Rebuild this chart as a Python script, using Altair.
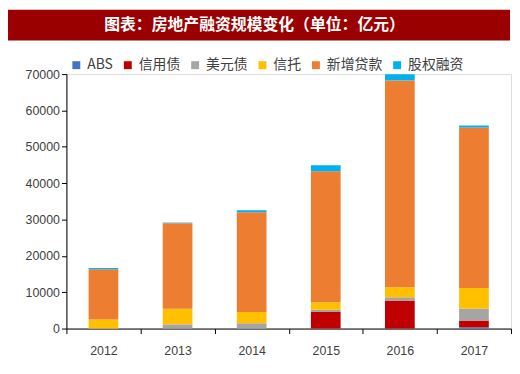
import altair as alt
import pandas as pd

years = ["2012", "2013", "2014", "2015", "2016", "2017"]
series = ["ABS", "信用债", "美元债", "信托", "新增贷款", "股权融资"]
colors = ["#4472C4", "#C00000", "#A5A5A5", "#FFC000", "#ED7D31", "#00B0F0"]

abs_v = [0, 0, 0, 0, 0, 300]
credit_v = [0, 0, 0, 4550, 7700, 1900]
usd_v = [0, 1150, 1450, 600, 900, 3250]
trust_v = [2500, 4300, 3100, 2100, 2750, 5700]
loan_v = [13800, 23550, 27450, 36000, 56900, 44150]
equity_v = [350, 150, 550, 1650, 1700, 550]

title_text = "图表：房地产融资规模变化（单位：亿元）"

vals = [abs_v, credit_v, usd_v, trust_v, loan_v, equity_v]
rows = []
for si, (s, v) in enumerate(zip(series, vals)):
    for y, val in zip(years, v):
        rows.append({"year": y, "type": s, "value": val, "ord": si})
df = pd.DataFrame(rows)

W, H = 449, 257

bars = alt.Chart(df).mark_bar(size=30).encode(
    x=alt.X("year:N", sort=years, title=None,
            scale=alt.Scale(paddingInner=0, paddingOuter=0),
            axis=alt.Axis(labelAngle=0, tickBand="extent", tickSize=5,
                          labelPadding=11, domainColor="#000000", tickColor="#000000",
                          labelFontSize=12.5, labelColor="#404040", labelFont="Liberation Sans")),
    y=alt.Y("value:Q", stack="zero", title=None,
            scale=alt.Scale(domain=[0, 70000], nice=False),
            axis=alt.Axis(values=list(range(0, 70001, 10000)), format="d", grid=False,
                          tickSize=5, labelPadding=2, domainColor="#000000", tickColor="#000000",
                          labelFontSize=12.5, labelColor="#404040", labelFont="Liberation Sans")),
    color=alt.Color("type:N", sort=series,
                    scale=alt.Scale(domain=series, range=colors),
                    legend=alt.Legend(title=None, orient="none", legendX=3, legendY=-16,
                                      direction="horizontal", columns=6, symbolType="square",
                                      symbolSize=64, symbolStrokeWidth=0, labelFontSize=14,
                                      labelFont="Noto Sans CJK SC", labelColor="#404040",
                                      columnPadding=8, labelOffset=4, padding=0)),
    order=alt.Order("ord:Q", sort="ascending"),
)

tdf = pd.DataFrame({"t": [title_text]})
banner = alt.Chart(tdf).mark_rect(color="#9A0000").encode(
    x=alt.value(-59), x2=alt.value(448), y=alt.value(-65), y2=alt.value(-34)
)
title = alt.Chart(tdf).mark_text(
    color="white", fontSize=16, fontWeight="bold", font="Noto Sans CJK SC",
    align="center", baseline="middle"
).encode(x=alt.value(190), y=alt.value(-50), text="t:N")

chart = alt.layer(banner, title, bars).properties(
    width=W, height=H, padding=0
).configure_view(stroke=None).configure(background="white")

chart.save("out.html", embed_options={"renderer": "svg", "actions": False})
